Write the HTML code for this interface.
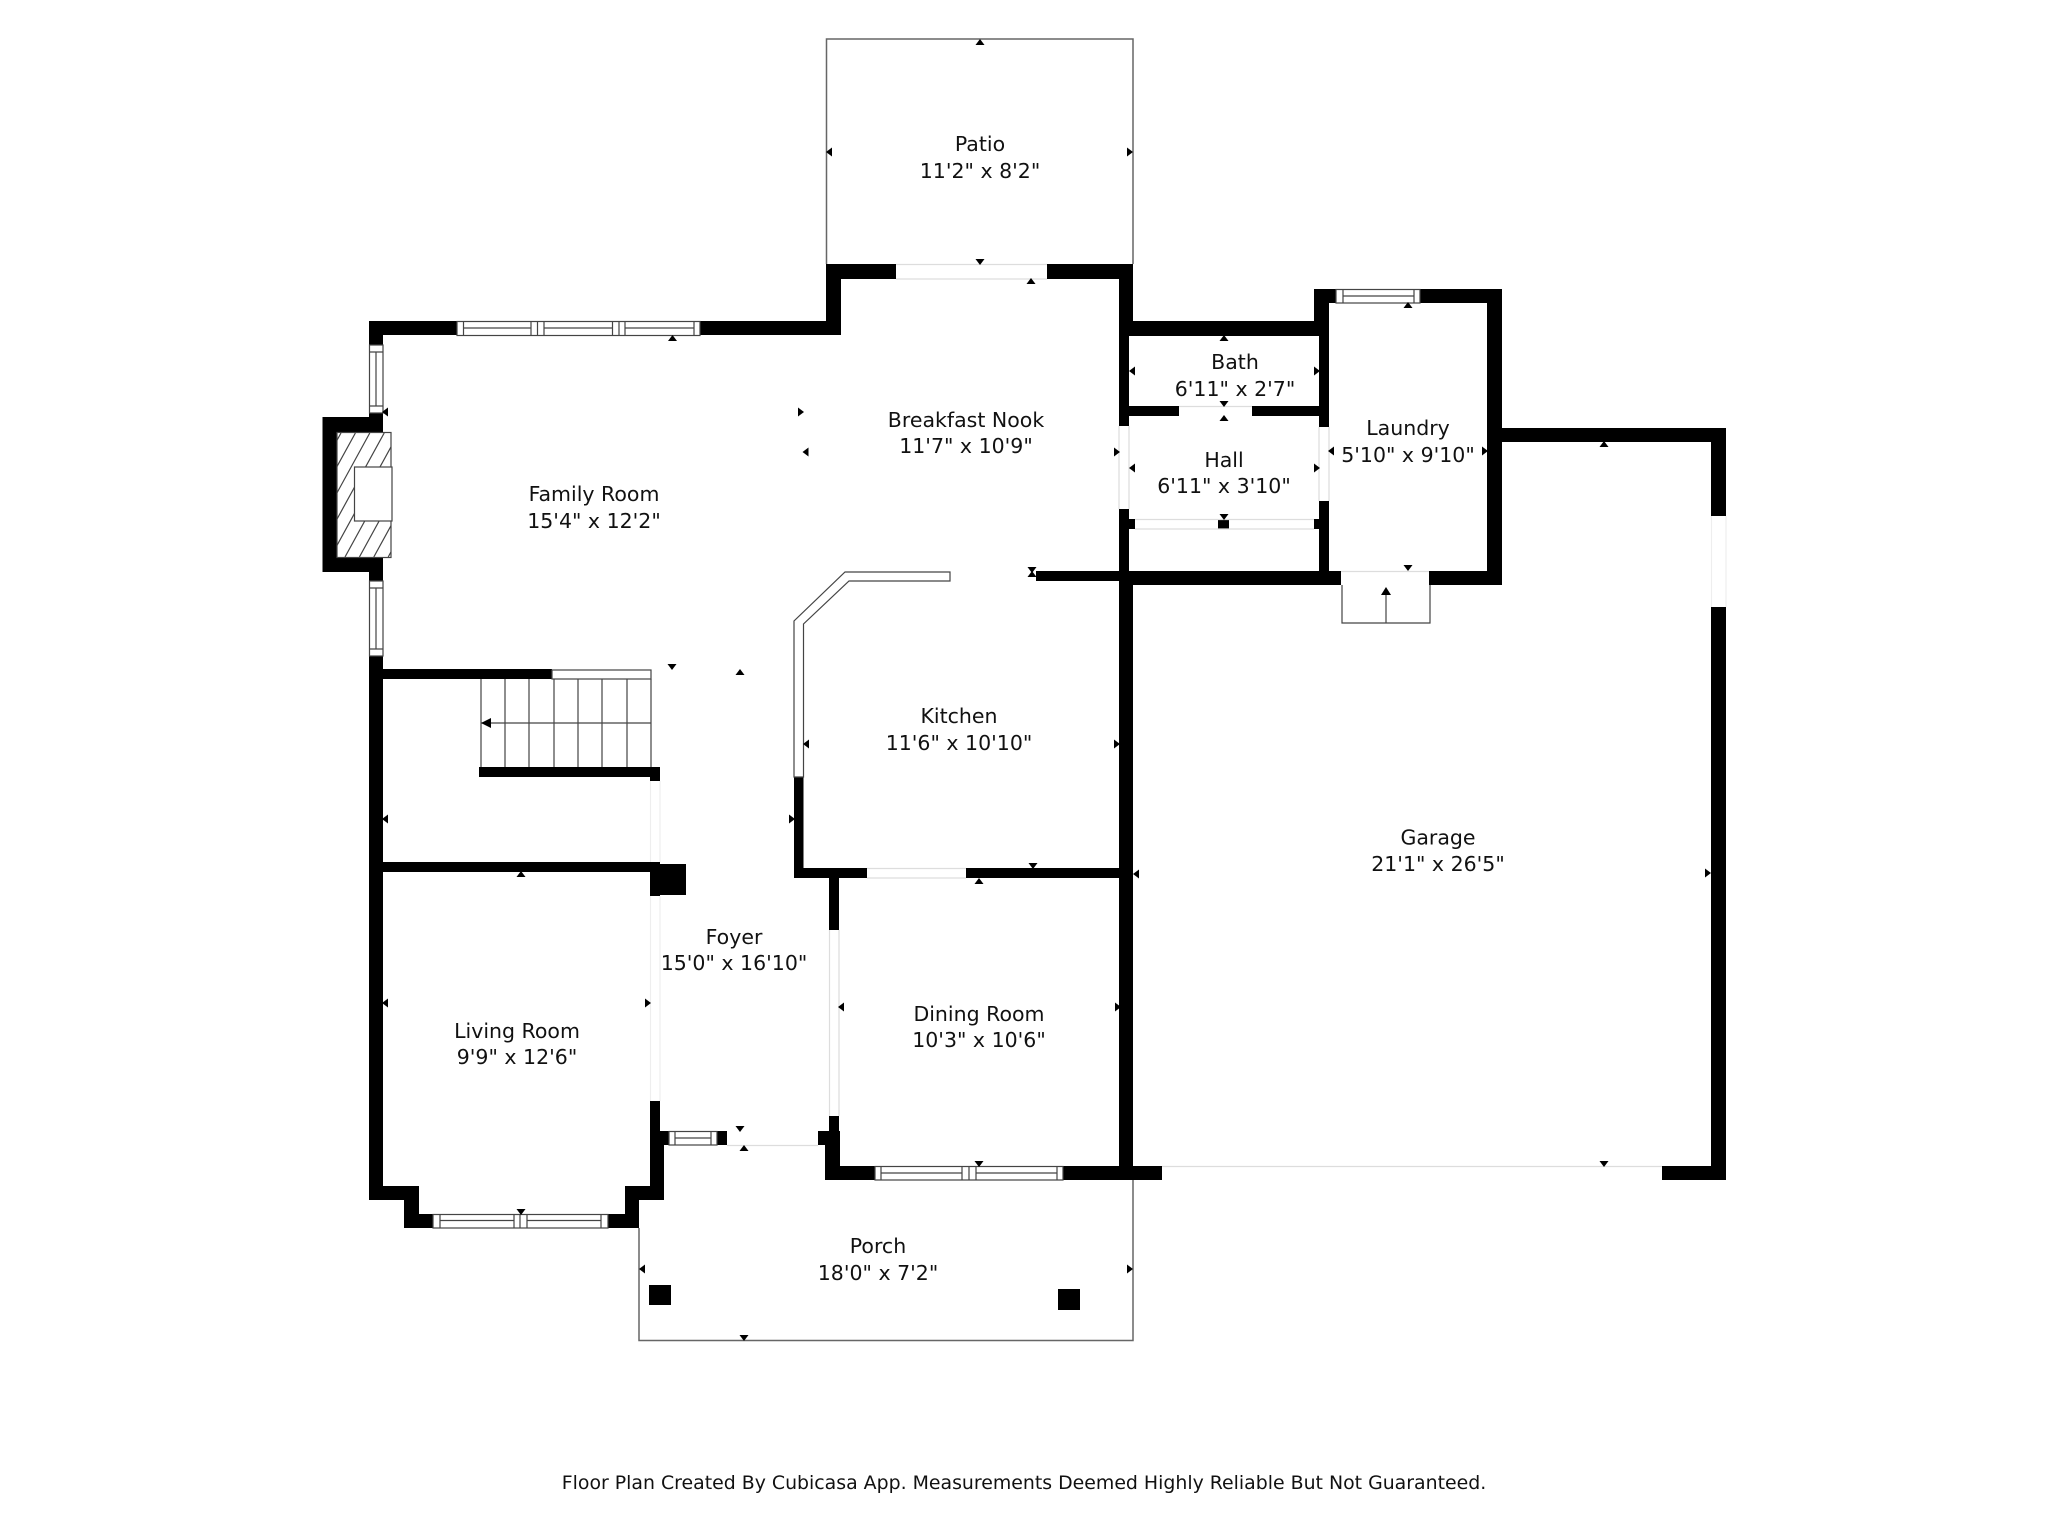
<!DOCTYPE html>
<html><head><meta charset="utf-8"><style>
html,body{margin:0;padding:0;background:#fff}
svg{display:block}
text{font-family:"DejaVu Sans",sans-serif;font-size:20.5px;fill:#111;text-anchor:middle}
.w{fill:#fff;stroke:#444;stroke-width:1.2}
.l{stroke:#444;stroke-width:1.2;fill:none}
.d{stroke:#ddd;stroke-width:1.2;fill:none}
.f{stroke:#eee;stroke-width:1.2;fill:none}
.o{stroke:#666;stroke-width:1.5;fill:none}
</style></head><body>
<svg width="2048" height="1536" viewBox="0 0 2048 1536" xmlns="http://www.w3.org/2000/svg">
<defs>
<polygon id="u" points="-4.5,3 0,-3 4.5,3"/>
<polygon id="n" points="-4.5,-3 0,3 4.5,-3"/>
<polygon id="a" points="3,-4.5 -3,0 3,4.5"/>
<polygon id="r" points="-3,-4.5 3,0 -3,4.5"/>
<clipPath id="fc"><rect x="337" y="433" width="54" height="124"/></clipPath>
</defs>
<rect width="2048" height="1536" fill="#fff"/>

<!-- outlines: patio & porch -->
<path class="o" d="M826.5 264V39H1133V264"/>
<path class="o" d="M639 1228V1340.5H1133V1180"/>

<!-- black walls -->
<g fill="#000">
<rect x="369" y="321" width="88" height="14"/>
<rect x="700" y="321" width="141" height="14"/>
<rect x="826" y="264" width="15" height="71"/>
<rect x="826" y="264" width="70" height="15"/>
<rect x="1047" y="264" width="86" height="15"/>
<rect x="1119" y="264" width="14" height="72"/>
<rect x="1119" y="321" width="210" height="15"/>
<rect x="369" y="321" width="14" height="24"/>
<rect x="369" y="413" width="14" height="168"/>
<rect x="322.5" y="417" width="60" height="16"/>
<rect x="322.5" y="417" width="14.5" height="155"/>
<rect x="322.5" y="557" width="60" height="15"/>
<rect x="369" y="656" width="14" height="544"/>
<rect x="369" y="1186" width="50" height="14"/>
<rect x="404" y="1186" width="15" height="42"/>
<rect x="404" y="1214" width="29" height="14"/>
<rect x="608" y="1214" width="31" height="14"/>
<rect x="625" y="1186" width="14" height="42"/>
<rect x="625" y="1186" width="39" height="14"/>
<rect x="650" y="1145" width="14" height="55"/>
<rect x="650" y="1101" width="10" height="44"/>
<rect x="660" y="1131" width="9" height="14"/>
<rect x="717" y="1131" width="10" height="14"/>
<rect x="383" y="669" width="169" height="10"/>
<rect x="479" y="767" width="181" height="10"/>
<rect x="650" y="767" width="10" height="14"/>
<rect x="383" y="862" width="277" height="10"/>
<rect x="650" y="862" width="10" height="34"/>
<rect x="660" y="864" width="26" height="31"/>
<rect x="794" y="777" width="9.5" height="101"/>
<rect x="794" y="868" width="73" height="10"/>
<rect x="966" y="868" width="153" height="10"/>
<rect x="829" y="878" width="10" height="52"/>
<rect x="829" y="1116" width="10" height="64"/>
<rect x="818" y="1131" width="22" height="14"/>
<rect x="825" y="1145" width="15" height="35"/>
<rect x="825" y="1166" width="50" height="14"/>
<rect x="1063" y="1166" width="99" height="14"/>
<rect x="1119" y="585" width="14" height="595"/>
<rect x="1119" y="336" width="10" height="90"/>
<rect x="1119" y="509" width="10" height="76"/>
<rect x="1036" y="571" width="83" height="10"/>
<rect x="1129" y="571" width="212" height="14"/>
<rect x="1429" y="571" width="73" height="14"/>
<rect x="1487" y="289" width="15" height="296"/>
<rect x="1420" y="289" width="82" height="14"/>
<rect x="1314" y="289" width="22" height="14"/>
<rect x="1314" y="289" width="15" height="47"/>
<rect x="1319" y="336" width="10" height="91"/>
<rect x="1319" y="501" width="10" height="70"/>
<rect x="1129" y="406" width="50" height="10"/>
<rect x="1252" y="406" width="67" height="10"/>
<rect x="1129" y="519" width="6" height="10"/>
<rect x="1218" y="519" width="11" height="10"/>
<rect x="1314" y="519" width="5" height="10"/>
<rect x="1502" y="428" width="224" height="14"/>
<rect x="1711" y="428" width="15" height="88"/>
<rect x="1711" y="607" width="15" height="573"/>
<rect x="1662" y="1166" width="64" height="14"/>
<rect x="649" y="1285" width="22" height="20"/>
<rect x="1058" y="1289" width="22" height="21"/>
</g>

<!-- door / opening lines -->
<path class="d" d="M896 264.5H1047M896 279H1047M867 868.5H966M867 878H966M1119 426V509M1129 426V509M1319 427V501M1329 427V501M1179 406.5H1252M1135 519.5H1314M1135 529H1314M1341 571.5H1429M829.5 930V1116M839 930V1116M727 1145.5H818M1162 1166.5H1662"/>
<path class="f" d="M650.5 781V862M660 781V862M650.5 896V1101M660 896V1101M1711.5 516V607M1726 516V607"/>

<!-- windows -->
<rect class="w" x="457" y="321.5" width="243" height="14"/>
<path class="l" d="M463.5 321.5V335.5M531 321.5V335.5M537.5 321.5V335.5M544 321.5V335.5M612.5 321.5V335.5M619 321.5V335.5M625 321.5V335.5M694 321.5V335.5M463.5 328H531M544 328H612.5M625 328H694"/>
<rect class="w" x="369.5" y="345" width="13.5" height="68"/>
<path class="l" d="M369.5 352H383M369.5 406H383M376 352V406"/>
<rect class="w" x="369.5" y="581" width="13.5" height="75"/>
<path class="l" d="M369.5 588H383M369.5 649H383M376 588V649"/>
<rect class="w" x="1336" y="289.5" width="84" height="13.5"/>
<path class="l" d="M1343 289.5V303M1414 289.5V303M1343 296H1414"/>
<rect class="w" x="433" y="1214.5" width="175" height="13.5"/>
<path class="l" d="M440 1214.5V1228M514 1214.5V1228M520 1214.5V1228M527 1214.5V1228M601 1214.5V1228M440 1220.5H514M527 1220.5H601"/>
<rect class="w" x="875" y="1166.5" width="188" height="13.5"/>
<path class="l" d="M881 1166.5V1180M962 1166.5V1180M969 1166.5V1180M976 1166.5V1180M1057 1166.5V1180M881 1173H962M976 1173H1057"/>
<rect class="w" x="669" y="1131.5" width="48" height="13.5"/>
<path class="l" d="M675 1131.5V1145M711 1131.5V1145M675 1138H711"/>

<!-- fireplace -->
<rect class="w" x="337" y="432.5" width="54" height="125"/>
<g clip-path="url(#fc)" class="l">
<path d="M273 557L341 433M287.4 557L355.4 433M301.8 557L369.8 433M316.2 557L384.2 433M330.6 557L398.6 433M345 557L413 433M359.4 557L427.4 433M373.8 557L441.8 433M388.2 557L456.2 433"/>
</g>
<rect class="w" x="354.5" y="467" width="37.5" height="54"/>

<!-- stairs -->
<rect class="w" x="552" y="670" width="99" height="9"/>
<path class="l" d="M481 679V767M505 679V767M529 679V767M554 679V767M578 679V767M602 679V767M627 679V767M651 679V767M481 723H651"/>
<polygon points="481,723 491,718 491,728"/>

<!-- counter -->
<path class="w" d="M794 777V621L845 572H950V581H849L803.5 624V777Z"/>

<!-- rear steps -->
<path class="l" d="M1342 585V623H1430V585M1386 595V623"/>
<polygon points="1386,587 1381,595 1391,595"/>

<!-- small ticks -->
<g>
<use href="#u" x="980" y="42"/><use href="#a" x="829" y="152"/><use href="#r" x="1130" y="152"/><use href="#n" x="980" y="262"/><use href="#u" x="1031" y="281"/>
<use href="#u" x="672.5" y="338"/><use href="#a" x="385" y="412"/><use href="#r" x="801" y="412"/><use href="#a" x="805.5" y="452"/><use href="#n" x="672" y="667"/><use href="#u" x="740" y="672"/>
<use href="#u" x="1224" y="338"/><use href="#a" x="1132" y="371"/><use href="#r" x="1317" y="371"/><use href="#n" x="1224" y="404"/><use href="#u" x="1224" y="418"/><use href="#r" x="1117" y="452"/><use href="#a" x="1132" y="468"/><use href="#r" x="1317" y="468"/><use href="#n" x="1224" y="517"/>
<use href="#a" x="1331" y="451"/><use href="#r" x="1485" y="451"/><use href="#u" x="1408" y="305"/><use href="#n" x="1408" y="568"/>
<use href="#a" x="385" y="819"/><use href="#r" x="792" y="819"/><use href="#u" x="521" y="874"/><use href="#a" x="385" y="1003"/><use href="#r" x="648" y="1003"/><use href="#a" x="841" y="1007"/><use href="#r" x="1118" y="1007"/>
<use href="#n" x="1032" y="570"/><use href="#u" x="1032" y="574"/><use href="#a" x="806" y="744"/><use href="#r" x="1117" y="744"/><use href="#n" x="1033" y="866"/><use href="#u" x="979" y="881"/><use href="#a" x="1136" y="874"/>
<use href="#n" x="521" y="1212"/><use href="#n" x="740" y="1129"/><use href="#u" x="744" y="1148"/><use href="#a" x="642" y="1269"/><use href="#n" x="744" y="1338"/><use href="#n" x="979" y="1164"/><use href="#r" x="1130" y="1269"/>
<use href="#u" x="1604" y="444"/><use href="#n" x="1604" y="1164"/><use href="#r" x="1708" y="873"/>
</g>

<!-- labels -->
<text x="980" y="151">Patio</text><text x="980" y="178">11'2" x 8'2"</text>
<text x="594" y="501">Family Room</text><text x="594" y="528">15'4" x 12'2"</text>
<text x="966" y="427">Breakfast Nook</text><text x="966" y="453">11'7" x 10'9"</text>
<text x="1235" y="369">Bath</text><text x="1235" y="396">6'11" x 2'7"</text>
<text x="1224" y="467">Hall</text><text x="1224" y="493">6'11" x 3'10"</text>
<text x="1408" y="435">Laundry</text><text x="1408" y="462">5'10" x 9'10"</text>
<text x="959" y="723">Kitchen</text><text x="959" y="750">11'6" x 10'10"</text>
<text x="734" y="944">Foyer</text><text x="734" y="970">15'0" x 16'10"</text>
<text x="517" y="1038">Living Room</text><text x="517" y="1064">9'9" x 12'6"</text>
<text x="979" y="1021">Dining Room</text><text x="979" y="1047">10'3" x 10'6"</text>
<text x="1438" y="844.5">Garage</text><text x="1438" y="871">21'1" x 26'5"</text>
<text x="878" y="1253">Porch</text><text x="878" y="1280">18'0" x 7'2"</text>
<text x="1024" y="1489" style="font-size:18.9px">Floor Plan Created By Cubicasa App. Measurements Deemed Highly Reliable But Not Guaranteed.</text>
</svg>
</body></html>
